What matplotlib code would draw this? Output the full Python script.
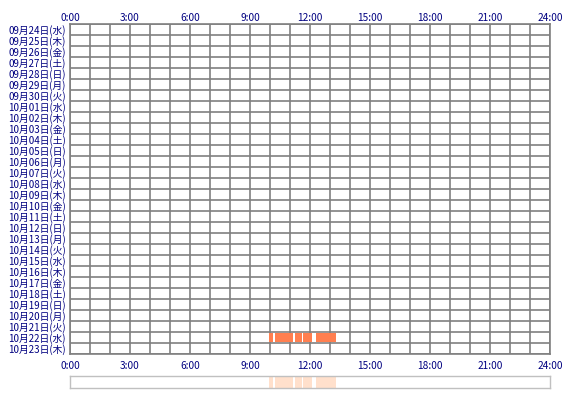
import matplotlib
matplotlib.use('Agg')
import matplotlib.pyplot as plt

plt.rcParams['font.family'] = ['Noto Sans CJK JP', 'DejaVu Sans']

# 日付ラベル (上から順)
days = ['09月24日(水)', '09月25日(木)', '09月26日(金)', '09月27日(土)', '09月28日(日)',
        '09月29日(月)', '09月30日(火)', '10月01日(水)', '10月02日(木)', '10月03日(金)',
        '10月04日(土)', '10月05日(日)', '10月06日(月)', '10月07日(火)', '10月08日(水)',
        '10月09日(木)', '10月10日(金)', '10月11日(土)', '10月12日(日)', '10月13日(月)',
        '10月14日(火)', '10月15日(水)', '10月16日(木)', '10月17日(金)', '10月18日(土)',
        '10月19日(日)', '10月20日(月)', '10月21日(火)', '10月22日(水)', '10月23日(木)']

hour_ticks = [0, 3, 6, 9, 12, 15, 18, 21, 24]
hour_labels = ['0:00', '3:00', '6:00', '9:00', '12:00', '15:00', '18:00', '21:00', '24:00']

# 活動した日と時間帯 (開始時刻, 終了時刻) 単位: 時
active_day = '10月22日(水)'
start_h = [9.97, 10.25, 11.25, 11.67, 12.3]
end_h = [10.17, 11.17, 11.58, 12.08, 13.3]

navy = '#000080'
W, H = 570, 400

fig = plt.figure(figsize=(W / 100, H / 100), dpi=100)
fig.patch.set_facecolor('white')

''' メインのグリッド '''
ax = fig.add_axes([70 / W, 1 - 354 / H, 480 / W, 330 / H])
ax.set_xlim(0, 24)
ax.set_ylim(len(days), 0)
ax.xaxis.remove_overlapping_locs = False
ax.yaxis.remove_overlapping_locs = False

ax.set_xticks(range(25), minor=True)
ax.set_yticks(range(len(days) + 1), minor=True)
ax.grid(which='minor', color='#808080', linewidth=1.2)
ax.set_axisbelow(True)

ax.set_xticks(hour_ticks)
ax.set_xticklabels(hour_labels)
ax.tick_params(axis='x', which='both', length=0, labelsize=7.3, labelcolor=navy, pad=5)

# 上側の時刻ラベル
top = ax.secondary_xaxis('top')
top.set_xticks(hour_ticks)
top.set_xticklabels(hour_labels)
top.tick_params(axis='x', length=0, labelsize=7.3, labelcolor=navy, pad=1)
top.spines['top'].set_visible(False)

ax.set_yticks([i + 0.5 for i in range(len(days))])
ax.set_yticklabels(days)
ax.tick_params(axis='y', which='both', length=0, labelsize=7, labelcolor=navy, pad=3)

for s in ax.spines.values():
    s.set_color('#808080')
    s.set_linewidth(1.2)

row = days.index(active_day)
segs = [(a, b - a) for a, b in zip(start_h, end_h)]
ax.broken_barh(segs, (row + 0.05, 0.9), facecolor='#ff7f50', zorder=3)

''' 下の集計バー '''
ax2 = fig.add_axes([70 / W, 1 - 388 / H, 480 / W, 12 / H])
ax2.set_xlim(0, 24)
ax2.set_ylim(0, 1)
ax2.set_xticks([])
ax2.set_yticks([])
for s in ax2.spines.values():
    s.set_color('#c0c0c0')
    s.set_linewidth(1.0)
ax2.broken_barh(segs, (0, 1), facecolor='#ffe0cc')

fig.savefig('out.png', dpi=100)
